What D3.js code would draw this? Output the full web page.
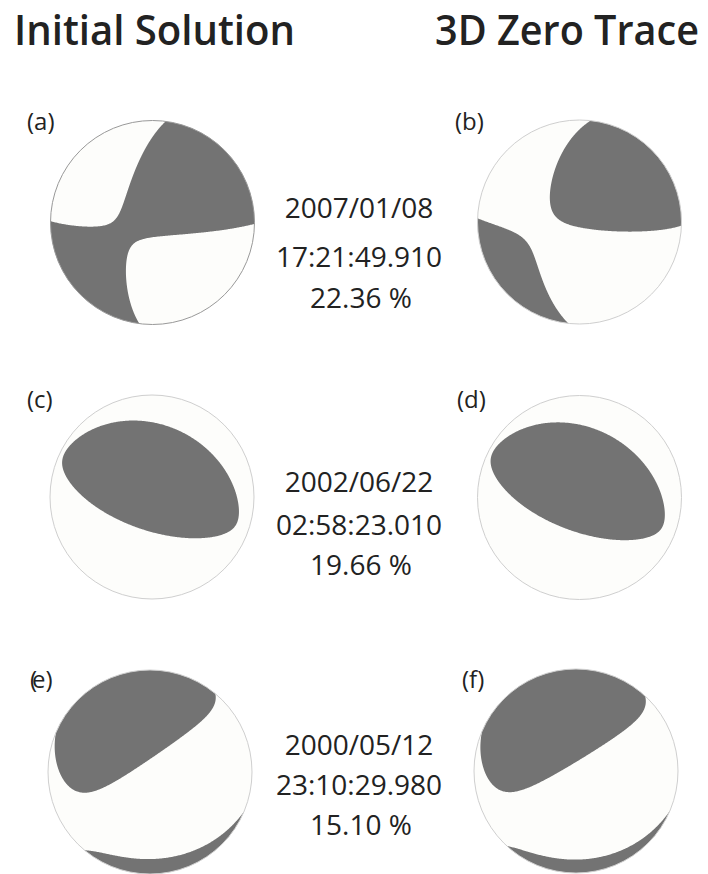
<!DOCTYPE html>
<html><head><meta charset="utf-8">
<script src="https://cdn.jsdelivr.net/npm/d3@7"></script>
<style>body{margin:0;background:#fff}</style>
</head><body><svg id="fig" width="708" height="874"></svg>
<script>
// ---- data ----
const columnTitles = ["Initial Solution", "3D Zero Trace"];
const panels = ["(a)", "(b)", "(c)", "(d)", "(e)", "(f)"];
const eventDates = ["2007/01/08", "2002/06/22", "2000/05/12"];
const eventTimes = ["17:21:49.910", "02:58:23.010", "23:10:29.980"];
const misfits = ["22.36 %", "19.66 %", "15.10 %"];

// Moment tensor components (Harvard convention: r = up, t = south, p = east),
// normalised so the largest component is 1; order follows the panels (a)-(f)
const mrr = [0.174, 0.092, 1.000, 0.972, -0.381, -0.259];
const mtt = [-0.260, -0.221, -0.971, -1.000, 0.594, 0.523];
const mpp = [0.027, 0.072, -0.210, -0.249, -0.297, -0.239];
const mrt = [0.392, 0.610, 0.671, 0.618, 1.000, 1.000];
const mrp = [-0.143, -0.203, -0.166, -0.163, 0.728, 0.629];
const mtp = [-1.000, -1.000, 0.414, 0.464, 0.232, 0.174];

// ---- helpers ----
// ray direction (north, east, down) for a point of the lower-hemisphere
// equal-area projection; points beyond the rim use the rim direction
function ray(x, y) {
  const rho = Math.min(Math.hypot(x, y), 1);
  const inc = 2 * Math.asin(rho / Math.SQRT2);
  const az = Math.atan2(x, y);
  return [Math.sin(inc) * Math.cos(az), Math.sin(inc) * Math.sin(az), Math.cos(inc)];
}
// P-wave radiation amplitude of tensor k along ray g
function amplitude(k, g) {
  const [n, e, d] = g;
  const NN = mtt[k], EE = mpp[k], DD = mrr[k];
  const NE = -mtp[k], ND = mrt[k], ED = -mrp[k];
  return NN*n*n + EE*e*e + DD*d*d + 2*NE*n*e + 2*ND*n*d + 2*ED*e*d;
}

const svg = d3.select("#fig");
const ink = "#222";
const ballCenters = [[152.5,222.5],[579.5,222],[152,497],[579.5,497.5],[150,772],[576,771]];
const R = 102;
const N = 241, EXT = 1.03;

// ---- beach balls: compressional lobes traced as the zero contour ----
panels.forEach((p, k) => {
  const [cx, cy] = ballCenters[k];
  const grid = new Float64Array(N * N);
  for (let j = 0; j < N; j++) for (let i = 0; i < N; i++) {
    const x = -EXT + 2 * EXT * i / (N - 1), y = EXT - 2 * EXT * j / (N - 1);
    grid[j * N + i] = amplitude(k, ray(x, y));
  }
  const step = 2 * EXT * R / (N - 1);
  const path = d3.geoPath(d3.geoIdentity().scale(step)
    .translate([cx - EXT * R - 0.5 * step, cy - EXT * R - 0.5 * step]));
  const lobes = d3.contours().size([N, N]).thresholds([0])(grid);

  svg.append("clipPath").attr("id", "clip" + k)
    .append("circle").attr("cx", cx).attr("cy", cy).attr("r", R);
  svg.append("circle").attr("cx", cx).attr("cy", cy).attr("r", R).attr("fill", "#fdfdfb");
  svg.append("g").attr("clip-path", `url(#clip${k})`)
    .selectAll("path").data(lobes).join("path")
    .attr("d", path).attr("fill", "#737373");
  svg.append("circle").attr("cx", cx).attr("cy", cy).attr("r", R)
    .attr("fill", "none").attr("stroke", k === 0 ? "#999" : "#cfcfcf").attr("stroke-width", 1);
});

// ---- column titles ----
[[14, 281], [435, 264]].forEach(([x, w], i) => {
  svg.append("text").attr("x", x).attr("y", 45)
    .attr("font-family", "Open Sans").attr("font-weight", 600).attr("font-size", 42)
    .attr("textLength", w).attr("lengthAdjust", "spacingAndGlyphs")
    .attr("fill", ink).text(columnTitles[i]);
});

// ---- event date, origin time and misfit between the balls ----
const rowsY = [[218, 267, 308], [492, 535, 575], [755, 795, 835]];
eventDates.forEach((d, i) => {
  [d, eventTimes[i], misfits[i]].forEach((t, j) =>
    svg.append("text").attr("x", j === 2 ? 361 : 359).attr("y", rowsY[i][j])
      .attr("text-anchor", "middle").attr("font-family", "Open Sans")
      .attr("font-size", 28).attr("fill", ink).text(t));
});

// ---- panel letters ----
const labelPos = [[27, 130], [455, 130], [27, 408], [457, 408], [30, 688], [462, 688]];
panels.forEach((p, k) => {
  const t = svg.append("text").attr("x", labelPos[k][0]).attr("y", labelPos[k][1])
    .attr("font-family", "Open Sans").attr("font-size", 24).attr("fill", ink);
  if (p === "(e)") {
    t.append("tspan").text("(");
    t.append("tspan").attr("dx", -5).text("e)");
  } else {
    t.text(p);
  }
});
</script></body></html>
